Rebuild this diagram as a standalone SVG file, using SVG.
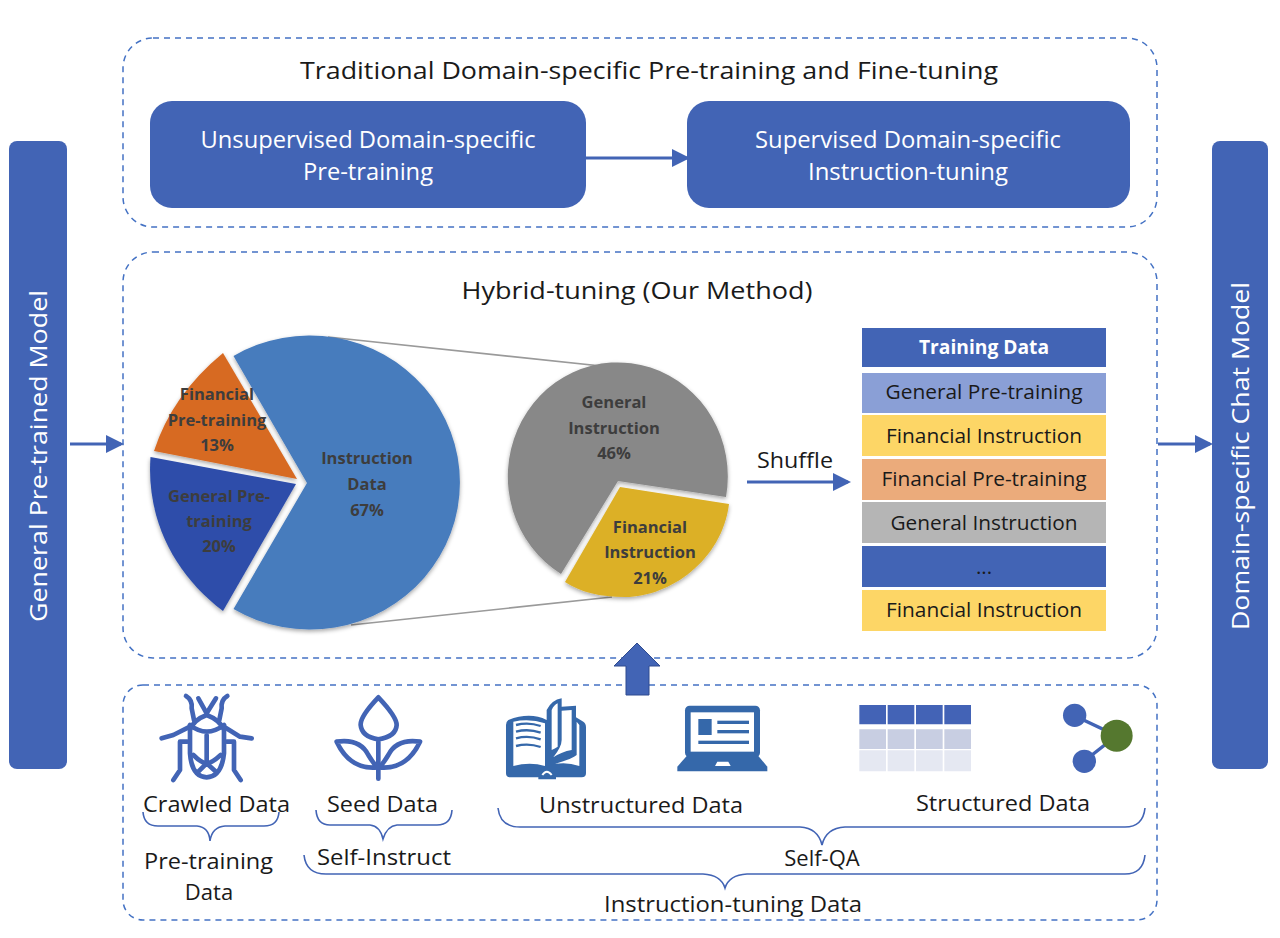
<svg xmlns="http://www.w3.org/2000/svg" width="1280" height="938" viewBox="0 0 1280 938">
<style>
text{font-family:"Open Sans","Noto Sans",sans-serif;text-anchor:middle;fill:#1a1a1a}
.w{fill:#fff}
.t{font-size:24px}.m{font-size:22px}.r{font-size:20.5px}
.p{font-size:16.5px;font-weight:700;fill:#3d3d3d}
.box{fill:none;stroke:#4472c4;stroke-width:1.5;stroke-dasharray:6 5}
.blk{fill:#4264b5}
.ln{fill:none;stroke:#4264b5;stroke-width:3}
.br{fill:none;stroke:#4264b5;stroke-width:1.6}
.ic{fill:none;stroke:#4264b5;stroke-width:14;stroke-linecap:round;stroke-linejoin:round}
.bk{fill:#3568aa}
.wf{fill:#fff}
.bl{fill:none;stroke:#3568aa;stroke-width:7}
</style>
<defs>
<marker id="a" markerWidth="6" markerHeight="6" refX="5" refY="3" orient="auto"><path d="M0 0L6 3L0 6Z" fill="#4264b5"/></marker>
<filter id="s" x="-10%" y="-10%" width="120%" height="120%"><feDropShadow dx="0" dy="2" stdDeviation="2" flood-color="#000" flood-opacity=".35"/></filter>
</defs>

<g id="frames">
<rect class="box" x="123" y="38" width="1034" height="189" rx="30"/>
<rect class="box" x="123" y="252" width="1034" height="406" rx="30"/>
<rect class="box" x="123" y="685" width="1034" height="235" rx="20"/>
</g>

<g id="connectors">
<line class="ln" x1="70" y1="444" x2="121" y2="444" marker-end="url(#a)"/>
<line class="ln" x1="1158" y1="444" x2="1210" y2="444" marker-end="url(#a)"/>
<line class="ln" x1="586" y1="158" x2="687" y2="158" marker-end="url(#a)"/>
<line class="ln" x1="747" y1="482" x2="848" y2="482" marker-end="url(#a)"/>
<line x1="328" y1="337" x2="620" y2="368" stroke="#9a9a9a" stroke-width="1.6"/>
<line x1="351" y1="625" x2="612" y2="597" stroke="#9a9a9a" stroke-width="1.6"/>
<path d="M637 643L660 666H649V695H626V666H614Z" fill="#4264b5" stroke="#2f4b8f"/>
<path class="br" d="M143 812Q144 826 158 826H197Q209 827 210 841Q212 827 225 826H264Q278 826 279 812"/>
<path class="br" d="M316 810Q317 825 330 825H370Q380 826 383 839Q387 826 397 825H437Q451 825 452 810"/>
<path class="br" d="M498 808Q500 827 520 827H800Q818 828 822 845Q826 828 845 827H1125Q1143 827 1145 808"/>
<path class="br" d="M304 855Q306 874 326 874H703Q721 875 725 888Q729 875 747 874H1125Q1143 874 1145 855"/>
</g>

<g id="general-model">
<rect class="blk" x="9" y="141" width="58" height="628" rx="8"/>
<text class="t w" transform="translate(47,456) rotate(-90)" textLength="332" lengthAdjust="spacingAndGlyphs">General Pre-trained Model</text>
</g>
<g id="chat-model">
<rect class="blk" x="1212" y="141" width="56" height="628" rx="8"/>
<text class="t w" transform="translate(1249,456) rotate(-90)" textLength="348" lengthAdjust="spacingAndGlyphs">Domain-specific Chat Model</text>
</g>

<g id="traditional">
<text class="t" x="649" y="79" textLength="698" lengthAdjust="spacingAndGlyphs">Traditional Domain-specific Pre-training and Fine-tuning</text>
</g>
<g id="unsupervised">
<rect class="blk" x="150" y="101" width="436" height="107" rx="22"/>
<text class="t w" x="368" y="148" textLength="335" lengthAdjust="spacingAndGlyphs">Unsupervised Domain-specific</text>
<text class="t w" x="368" y="180" textLength="130" lengthAdjust="spacingAndGlyphs">Pre-training</text>
</g>
<g id="supervised">
<rect class="blk" x="687" y="101" width="443" height="107" rx="22"/>
<text class="t w" x="908" y="148" textLength="306" lengthAdjust="spacingAndGlyphs">Supervised Domain-specific</text>
<text class="t w" x="908" y="180" textLength="200" lengthAdjust="spacingAndGlyphs">Instruction-tuning</text>
</g>

<g id="hybrid">
<text class="t" x="637" y="299" textLength="351" lengthAdjust="spacingAndGlyphs">Hybrid-tuning (Our Method)</text>
<text class="m" x="795" y="468" textLength="76" lengthAdjust="spacingAndGlyphs">Shuffle</text>
</g>

<g id="pie-main" filter="url(#s)">
<path d="M307 483L233.500 356A150 147 0 1 1 233.500 609Z" fill="#467bbd"/>
<path d="M297 479L223 353Q172 395 154 451Z" fill="#d76a22"/>
<path d="M296 484L150.500 457C146 520 175 575 223 611Z" fill="#2e4eaa"/>
</g>
<g id="pie-main-labels">
<text class="p" x="217" y="400">Financial</text>
<text class="p" x="217" y="426">Pre-training</text>
<text class="p" x="217" y="451">13%</text>
<text class="p" x="219" y="502">General Pre-</text>
<text class="p" x="219" y="527">training</text>
<text class="p" x="219" y="552">20%</text>
<text class="p" x="367" y="464">Instruction</text>
<text class="p" x="367" y="490">Data</text>
<text class="p" x="367" y="516">67%</text>
</g>
<g id="pie-detail" filter="url(#s)">
<path d="M618 481L726 497A110 114 0 1 0 561 574Z" fill="#888"/>
<path d="M620 487L729 504C722 560 670 597 625 597C600 597 580 592 565 582Z" fill="#dcb027"/>
</g>
<g id="pie-detail-labels">
<text class="p" x="614" y="408">General</text>
<text class="p" x="614" y="434">Instruction</text>
<text class="p" x="614" y="459">46%</text>
<text class="p" x="650" y="533">Financial</text>
<text class="p" x="650" y="558">Instruction</text>
<text class="p" x="650" y="584">21%</text>
</g>

<g id="training-table">
<rect class="blk" x="862" y="328" width="244" height="39"/>
<text class="r w" x="984" y="354" style="font-weight:700;font-size:19px" textLength="130" lengthAdjust="spacingAndGlyphs">Training Data</text>
<rect x="862" y="373" width="244" height="40" fill="#8a9fd6"/>
<text class="r" x="984" y="399" textLength="197" lengthAdjust="spacingAndGlyphs">General Pre-training</text>
<rect x="862" y="415" width="244" height="41" fill="#fdd666"/>
<text class="r" x="984" y="443" textLength="196" lengthAdjust="spacingAndGlyphs">Financial Instruction</text>
<rect x="862" y="459" width="244" height="41" fill="#ebab7b"/>
<text class="r" x="984" y="486" textLength="205" lengthAdjust="spacingAndGlyphs">Financial Pre-training</text>
<rect x="862" y="502" width="244" height="41" fill="#b5b5b5"/>
<text class="r" x="984" y="530" textLength="187" lengthAdjust="spacingAndGlyphs">General Instruction</text>
<rect class="blk" x="862" y="546" width="244" height="41"/>
<text class="r" x="984" y="574">...</text>
<rect x="862" y="590" width="244" height="41" fill="#fdd666"/>
<text class="r" x="984" y="617" textLength="196" lengthAdjust="spacingAndGlyphs">Financial Instruction</text>
</g>

<g id="crawled-data">
<g transform="translate(130,680) scale(.33333)" class="ic">
<path d="M168 48Q188 60 185 85L192 120M205 55L230 100L258 55M292 48Q272 60 275 85L268 120"/>
<path d="M230 105Q190 120 180 150V220Q185 290 230 292Q275 290 282 220V150Q270 120 230 105Z"/>
<path d="M180 135Q230 175 282 135M230 165V245M190 225Q215 250 230 250Q245 250 272 225M205 275L230 250L258 275"/>
<path d="M180 140L130 165L95 175M282 140L330 170L365 175M172 185H150V270L130 300M290 185H312V270L332 300"/>
</g>
<text class="m" x="216.500" y="812" textLength="147" lengthAdjust="spacingAndGlyphs">Crawled Data</text>
</g>
<g id="seed-data">
<g transform="translate(130,680) scale(.33333)" class="ic">
<path d="M745 52Q690 110 692 135Q695 170 745 178Q798 170 800 135Q800 110 745 52ZM745 178V296"/>
<path d="M620 185Q690 175 715 225Q730 250 742 262Q660 270 620 185ZM870 185Q800 175 775 225Q760 250 748 262Q830 270 870 185Z"/>
</g>
<text class="m" x="382.500" y="812" textLength="111" lengthAdjust="spacingAndGlyphs">Seed Data</text>
</g>
<g id="book-icon" transform="translate(480,640) scale(.33333)">
<path class="bk" d="M85 240Q150 215 200 240V210Q215 180 245 175V200L288 197V232L310 245Q318 250 318 262V400Q318 412 305 412H228V418H175V412H90Q78 412 78 400V255Q78 245 85 240Z"/>
<path class="wf" d="M100 245Q150 235 195 250V378Q150 365 100 378ZM215 210Q222 195 233 190V320Q225 325 215 330ZM245 212L275 210V330Q245 335 220 352Q245 320 245 300ZM290 245L298 255V378Q260 365 225 372Q280 355 290 345Z"/>
<path class="bl" d="M108 255Q145 245 182 258M108 275Q145 265 182 278M108 295Q145 285 182 298M108 318Q145 308 182 321"/>
<path d="M187 405Q200 385 215 405" fill="none" stroke="#fff" stroke-width="6"/>
</g>
<g id="laptop-icon" transform="translate(480,640) scale(.33333)">
<rect class="bk" x="615" y="197" width="225" height="155" rx="14"/>
<rect class="wf" x="632" y="217" width="190" height="118"/>
<rect class="bk" x="655" y="237" width="40" height="48"/>
<rect class="bk" x="712" y="242" width="95" height="10"/>
<rect class="bk" x="712" y="270" width="95" height="10"/>
<rect class="bk" x="655" y="302" width="152" height="10"/>
<path class="bk" d="M620 348H835L862 380V394H592V380Z"/>
<path class="wf" d="M712 365H745L752 378H705Z"/>
</g>
<g id="unstructured-label">
<text class="m" x="641" y="813" textLength="204" lengthAdjust="spacingAndGlyphs">Unstructured Data</text>
</g>
<g id="table-icon" transform="translate(840,690) scale(.33333)">
<path fill="#4363b6" d="M58 45h80v58h-80zM143 45h80v58h-80zM228 45h80v58h-80zM313 45h80v58h-80z"/>
<path fill="#c8cee2" d="M58 118h80v59h-80zM143 118h80v59h-80zM228 118h80v59h-80zM313 118h80v59h-80z"/>
<path fill="#e5e8f2" d="M58 181h80v63h-80zM143 181h80v63h-80zM228 181h80v63h-80zM313 181h80v63h-80z"/>
</g>
<g id="graph-icon" transform="translate(840,690) scale(.33333)">
<path d="M705 78L830 137L733 213" fill="none" stroke="#4264b5" stroke-width="10"/>
<circle cx="704" cy="76" r="35" fill="#4264b5"/>
<circle cx="733" cy="214" r="35" fill="#4264b5"/>
<circle cx="830" cy="137" r="48" fill="#55782f"/>
</g>
<g id="structured-label">
<text class="m" x="1003" y="811" textLength="174" lengthAdjust="spacingAndGlyphs">Structured Data</text>
</g>
<g id="bottom-labels">
<text class="m" x="208.500" y="869" textLength="129" lengthAdjust="spacingAndGlyphs">Pre-training</text>
<text class="m" x="209" y="900">Data</text>
<text class="m" x="384" y="865" textLength="134" lengthAdjust="spacingAndGlyphs">Self-Instruct</text>
<text class="m" x="822" y="866">Self-QA</text>
<text class="m" x="733" y="912" textLength="258" lengthAdjust="spacingAndGlyphs">Instruction-tuning Data</text>
</g>
</svg>
